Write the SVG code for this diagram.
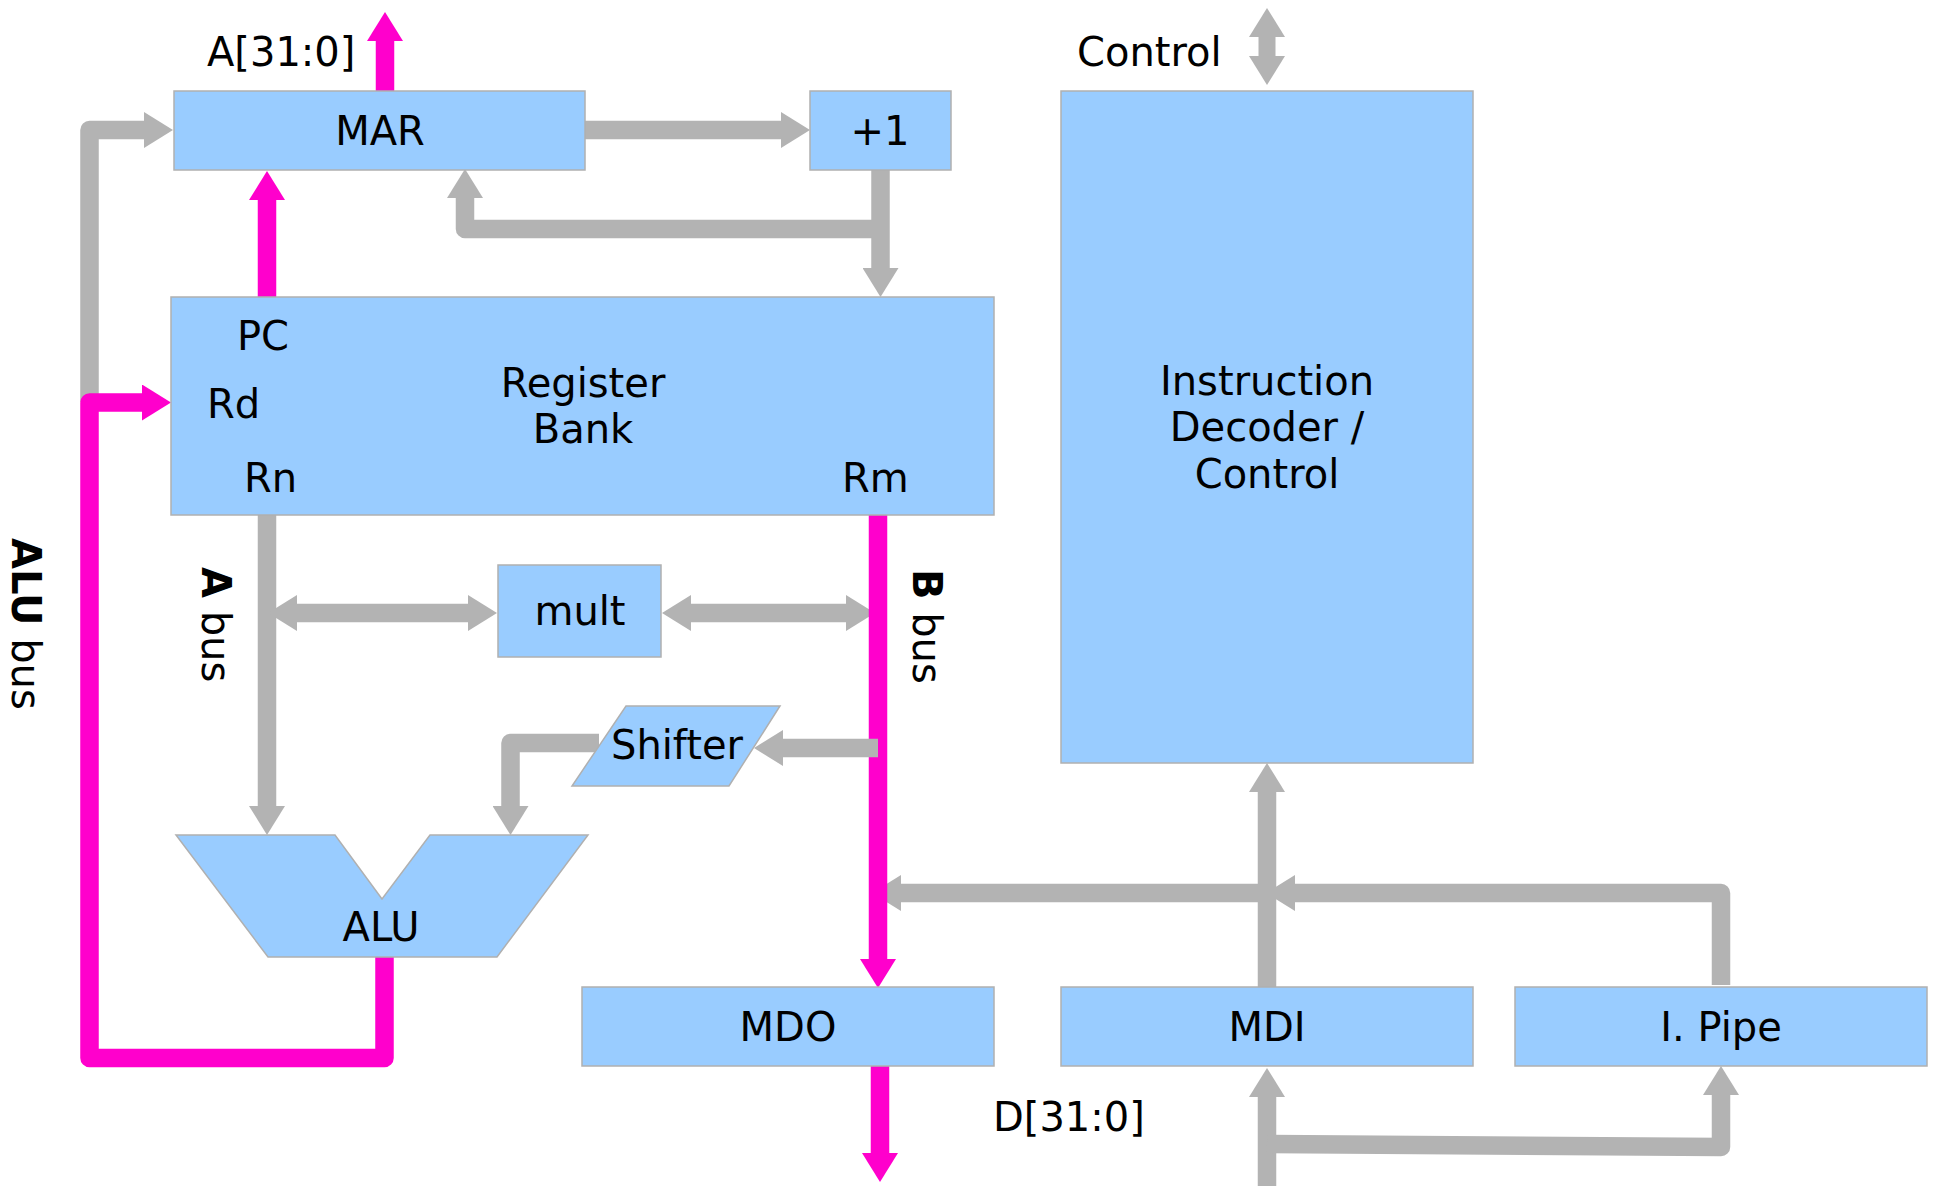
<svg xmlns="http://www.w3.org/2000/svg" width="1933" height="1186" viewBox="0 0 1933 1186">
<style>
.box{fill:#99ccff;stroke:#b0b0b0;stroke-width:1.5}
.t{font-family:"DejaVu Sans","Liberation Sans",sans-serif;font-size:40px;fill:#000}
.c{text-anchor:middle}
.b{font-weight:bold}
.g{fill:none;stroke:#b3b3b3;stroke-width:18.5;stroke-linejoin:round}
.m{fill:none;stroke:#ff00cc;stroke-width:18.5;stroke-linejoin:round}
.ga{marker-end:url(#hg)}
.gd{marker-start:url(#hg);marker-end:url(#hg)}
.ma{marker-end:url(#hm)}
</style>
<defs>
<marker id="hg" viewBox="0 -18 29 36" refX="1" refY="0" markerWidth="29" markerHeight="36" markerUnits="userSpaceOnUse" orient="auto-start-reverse"><path d="M0,-18 L29,0 L0,18 z" fill="#b3b3b3"/></marker>
<marker id="hm" viewBox="0 -18 29 36" refX="1" refY="0" markerWidth="29" markerHeight="36" markerUnits="userSpaceOnUse" orient="auto-start-reverse"><path d="M0,-18 L29,0 L0,18 z" fill="#ff00cc"/></marker>
</defs>
<rect width="1933" height="1186" fill="#ffffff"/>

<g id="connectors">
<!-- gray underneath -->
<path class="g ga" d="M89.5,402 L89.5,130 L145,130"/>
<path class="g ga" d="M585,130 L782,130"/>
<path class="g ga" d="M880.5,170 L880.5,269"/>
<path class="g ga" d="M880.5,229 L465,229 L465,197"/>
<path class="g ga" d="M267,515 L267,807"/>
<path class="g gd" d="M296,613 L469,613"/>
<path class="g gd" d="M690,613 L847,613"/>
<path class="g ga" d="M1267,893 L900,893"/>
<path class="g ga" d="M1721,985 L1721,893 L1294,893"/>
<path class="g ga" d="M1267,987 L1267,791"/>
<path class="g ga" d="M1267,1186 L1267,1096"/>
<path class="g ga" d="M1267,1144 L1721,1147 L1721,1094"/>
<path class="g gd" d="M1267,36 L1267,57" style="stroke-width:17"/>
<!-- magenta -->
<path class="m ma" d="M385,91 L385,40"/>
<path class="m ma" d="M267,297 L267,199"/>
<path class="m ma" d="M384.5,957 L384.5,1058 L89.5,1058 L89.5,402.5 L143,402.5"/>
<path class="m ma" d="M878,515 L878,960"/>
<path class="m ma" d="M880,1066 L880,1154"/>
<!-- gray on top -->
<path class="g ga" d="M878,748 L782,748"/>
<path class="g ga" d="M599,743 L510.5,743 L510.5,807"/>
</g>

<g id="mar"><rect class="box" x="174" y="91" width="411" height="79"/><text class="t c" x="380" y="145">MAR</text></g>
<g id="plus1"><rect class="box" x="810" y="91" width="141" height="79"/><text class="t c" x="880" y="145">+1</text></g>
<g id="register-bank"><rect class="box" x="171" y="297" width="823" height="218"/>
<text class="t" x="237" y="350">PC</text>
<text class="t" x="207" y="418">Rd</text>
<text class="t" x="244" y="492">Rn</text>
<text class="t" x="842" y="492">Rm</text>
<text class="t c" x="583" y="397">Register</text>
<text class="t c" x="583" y="443">Bank</text></g>
<g id="mult"><rect class="box" x="498" y="565" width="163" height="92"/><text class="t c" x="580" y="625">mult</text></g>
<g id="shifter"><polygon class="box" points="626,706 780,706 729,786 572,786"/><text class="t c" x="677" y="759">Shifter</text></g>
<g id="alu"><polygon class="box" points="176,835 335,835 382,899 430,835 588,835 497,957 268,957"/><text class="t c" x="381" y="941">ALU</text></g>
<g id="mdo"><rect class="box" x="582" y="987" width="412" height="79"/><text class="t c" x="788" y="1041">MDO</text></g>
<g id="mdi"><rect class="box" x="1061" y="987" width="412" height="79"/><text class="t c" x="1267" y="1041">MDI</text></g>
<g id="ipipe"><rect class="box" x="1515" y="987" width="412" height="79"/><text class="t c" x="1721" y="1041">I. Pipe</text></g>
<g id="instruction-decoder"><rect class="box" x="1061" y="91" width="412" height="672"/>
<text class="t c" x="1267" y="395">Instruction</text>
<text class="t c" x="1267" y="441">Decoder /</text>
<text class="t c" x="1267" y="488">Control</text></g>

<g id="labels">
<text class="t" x="207" y="66">A[31:0]</text>
<text class="t" x="1077" y="66">Control</text>
<text class="t" x="993" y="1131">D[31:0]</text>
<text class="t" transform="translate(12,538) rotate(90)"><tspan class="b">ALU</tspan> bus</text>
<text class="t" transform="translate(202,567) rotate(90)"><tspan class="b">A</tspan> bus</text>
<text class="t" transform="translate(913,569) rotate(90)"><tspan class="b">B</tspan> bus</text>
</g>
</svg>
